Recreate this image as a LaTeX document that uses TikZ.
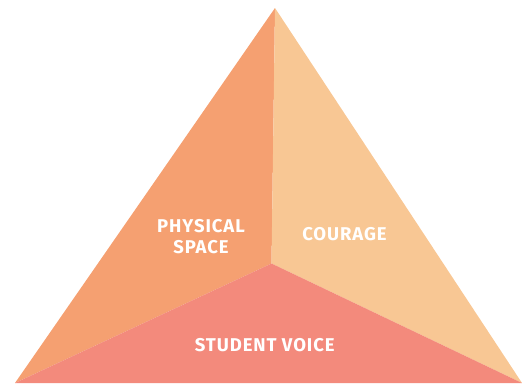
\documentclass[tikz,border=0pt]{standalone}
\usepackage{fontspec}
\setmainfont{Fira Sans}
\newfontfamily\lblfont[LetterSpace=5]{Fira Sans}
\definecolor{physc}{HTML}{F5A071}
\definecolor{courc}{HTML}{F8C794}
\definecolor{voicc}{HTML}{F38A7C}
\begin{document}
\begin{tikzpicture}[x=1pt,y=-1pt,
  lbl/.style={text=white,font=\lblfont\fontsize{18.5}{21}\selectfont\bfseries,align=center,inner sep=0pt}]
\useasboundingbox (0,0) rectangle (522,383);
\coordinate (apex) at (275,8);
\coordinate (mid) at (271.5,263.5);
\coordinate (bl) at (15,383);
\coordinate (br) at (522,383);
\fill[physc] (apex) -- (mid) -- (bl) -- cycle;
\fill[courc] (apex) -- (br) -- (mid) -- cycle;
\fill[voicc] (mid) -- (br) -- (bl) -- cycle;
\node[lbl] (phys) at (201,236.5) {PHYSICAL\\SPACE};
\node[lbl] (cour) at (344.5,234) {COURAGE};
\node[lbl] (voice) at (264.7,345) {STUDENT VOICE};
\end{tikzpicture}
\end{document}
